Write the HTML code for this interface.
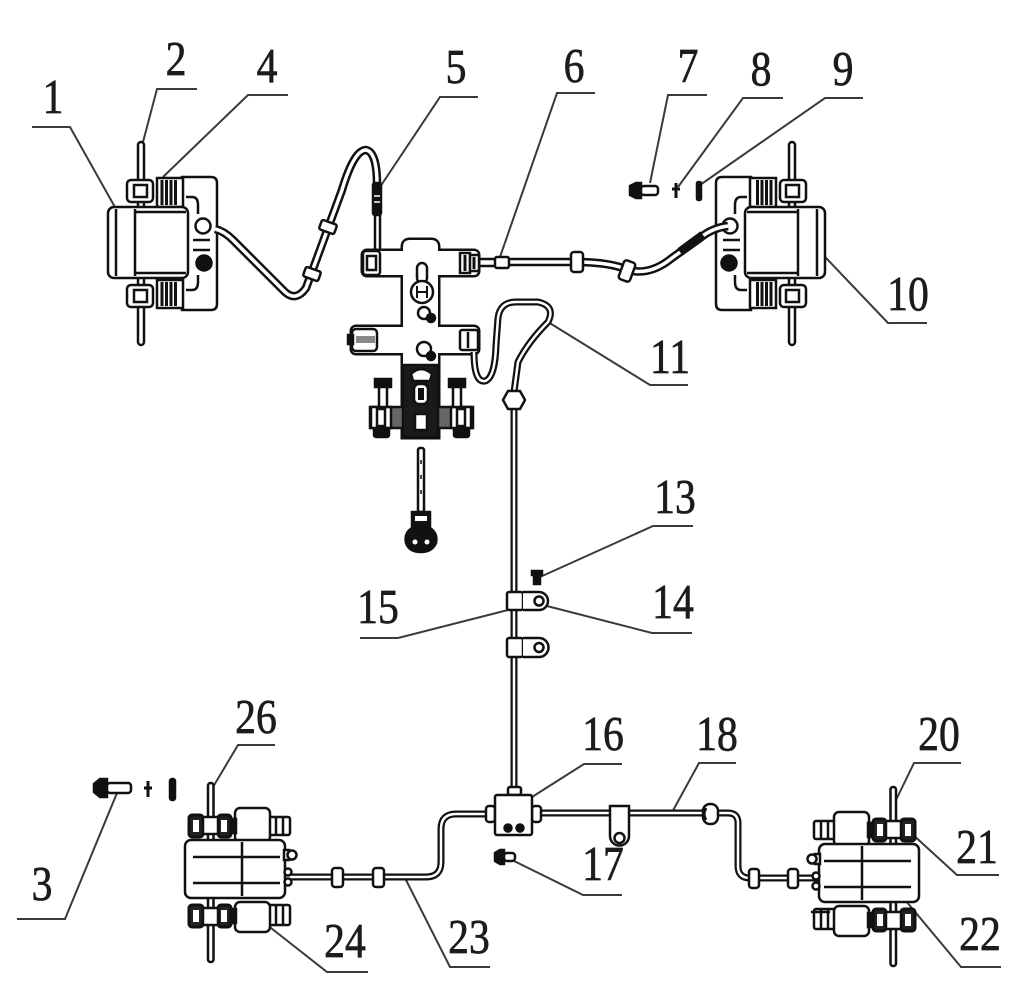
<!DOCTYPE html>
<html><head><meta charset="utf-8">
<style>
html,body{margin:0;padding:0;background:#fff}
svg{display:block}
.lb{font-family:"Liberation Serif",serif;font-size:49px;fill:#1c1c1c;stroke:#1c1c1c;stroke-width:0.7;text-anchor:middle}
.ld{fill:none;stroke:#3a3a3a;stroke-width:2}
.k{stroke:#111;stroke-width:2.5;fill:#fff}
.to{fill:none;stroke:#111;stroke-width:8.5;stroke-linejoin:round}
.ti{fill:none;stroke:#fff;stroke-width:3.5;stroke-linejoin:round}
.po{fill:none;stroke:#111;stroke-width:7;stroke-linejoin:round}
.pi{fill:none;stroke:#fff;stroke-width:2.5;stroke-linejoin:round}
</style></head><body>
<svg width="1024" height="986" viewBox="0 0 1024 986" xmlns="http://www.w3.org/2000/svg">
<rect width="1024" height="986" fill="#fff"/>
<defs>
<g id="fc" class="k">
  <rect x="138" y="142" width="6" height="203" rx="3"/>
  <path d="M182 177H211Q217 177 217 183V304Q217 310 211 310H182Z"/>
  <path d="M186 197H192Q198 197 198 205V214M186 290H192Q198 290 198 282V275M193 240H210M193 250H210" fill="none"/>
  <circle cx="203" cy="226" r="7.5"/>
  <circle cx="204" cy="263" r="7.5" fill="#111"/>
  <rect x="157" y="178" width="26" height="29"/>
  <path d="M162 180V205M166.5 180V205M171 180V205M175.5 180V205" stroke-width="3" fill="none"/>
  <rect x="157" y="280" width="26" height="28"/>
  <path d="M162 282V306M166.5 282V306M171 282V306M175.5 282V306" stroke-width="3" fill="none"/>
  <rect x="127" y="180" width="26" height="22" rx="4"/>
  <rect x="134" y="185" width="13" height="12"/>
  <rect x="127" y="285" width="26" height="22" rx="4"/>
  <rect x="134" y="290" width="13" height="12"/>
  <rect x="108" y="207" width="80" height="71" rx="6"/>
  <path d="M116 209V276M135 209V276M135 212H186M135 273H186" fill="none"/>
</g>
<g id="rc" class="k">
  <rect x="208" y="783" width="5.5" height="179" rx="2.5"/>
  <rect x="266" y="817" width="24" height="18" rx="2"/>
  <path d="M276 817V835M283 817V835" fill="none"/>
  <rect x="235" y="808" width="35" height="34" rx="5"/>
  <rect x="229" y="819" width="7" height="14" fill="#111"/>
  <rect x="189" y="815" width="14" height="22" rx="3" fill="#222" stroke-width="3"/>
  <rect x="218" y="815" width="13" height="22" rx="3" fill="#222" stroke-width="3"/>
  <rect x="203" y="817" width="15" height="17"/>
  <rect x="193" y="820" width="6" height="12" fill="#fff" stroke="none"/>
  <rect x="221" y="820" width="6" height="12" fill="#fff" stroke="none"/>
  <rect x="185" y="840" width="100" height="58" rx="6"/>
  <path d="M242 842V896M193 857H280M193 883H280" fill="none"/>
  <rect x="266" y="905" width="24" height="20" rx="2"/>
  <path d="M276 905V925M283 905V925" fill="none"/>
  <rect x="235" y="902" width="35" height="30" rx="5"/>
  <rect x="229" y="909" width="7" height="14" fill="#111"/>
  <rect x="189" y="905" width="14" height="22" rx="3" fill="#222" stroke-width="3"/>
  <rect x="218" y="905" width="13" height="22" rx="3" fill="#222" stroke-width="3"/>
  <rect x="203" y="908" width="15" height="17"/>
  <rect x="193" y="910" width="6" height="12" fill="#fff" stroke="none"/>
  <rect x="221" y="910" width="6" height="12" fill="#fff" stroke="none"/>
  <rect x="284" y="850" width="5" height="10"/>
  <circle cx="292" cy="855" r="4.5"/>
  <circle cx="288" cy="872" r="3.5"/>
  <circle cx="288" cy="882" r="3.5"/>
</g>
</defs>

<!-- leader lines -->
<g class="ld">
<polyline points="32,127 70,127 125,225"/>
<polyline points="197,89 157,89 143,142"/>
<polyline points="288,95 248,95 163,177"/>
<polyline points="478,97 440,97 378,190"/>
<polyline points="595,93 557,93 500,257"/>
<polyline points="707,95 668,95 650,183"/>
<polyline points="783,98 743,98 678,187"/>
<polyline points="863,98 825,98 700,185"/>
<polyline points="927,323 888,323 807,238"/>
<polyline points="688,385 650,385 548,322"/>
<polyline points="693,526 653,526 540,577"/>
<polyline points="692,633 652,633 543,605"/>
<polyline points="360,638 398,638 508,610"/>
<polyline points="622,764 584,764 532,797"/>
<polyline points="736,763 699,763 670,816"/>
<polyline points="961,763 914,763 896,800"/>
<polyline points="999,875 957,875 911,833"/>
<polyline points="1001,967 961,967 901,895"/>
<polyline points="622,895 583,895 512,860"/>
<polyline points="490,967 450,967 405,878"/>
<polyline points="368,972 327,972 257,917"/>
<polyline points="275,745 238,745 213,787"/>
<polyline points="17,919 65,919 117,793"/>
</g>

<!-- front calipers -->
<use href="#fc"/>
<use href="#fc" transform="translate(933,0) scale(-1,1)"/>

<!-- hose 5 -->
<path class="to" d="M215 229 Q224 231 233 240 L285 292 Q296 302 306 288 L342 190 Q354 150 366 150 Q377 152 377 185"/>
<path class="ti" d="M215 229 Q224 231 233 240 L285 292 Q296 302 306 288 L342 190 Q354 150 366 150 Q377 152 377 185"/>
<g class="k">
  <rect x="-5" y="-8" width="10" height="16" rx="2" transform="translate(328,227) rotate(-70)"/>
  <rect x="-5" y="-8" width="10" height="16" rx="2" transform="translate(312,274) rotate(-70)"/>
  <rect x="375" y="213" width="5" height="38"/>
  <rect x="373" y="183" width="8" height="32" rx="2" fill="#111"/>
  <path d="M374 196H380M374 202H380" stroke="#fff" stroke-width="1.5"/>
</g>

<!-- hose 6 -->
<path class="to" d="M505 262 L575 262 Q610 262 628 270 Q650 276 672 258 L700 238 Q712 228 728 226"/>
<path class="ti" d="M505 262 L575 262 Q610 262 628 270 Q650 276 672 258 L700 238 Q712 228 728 226"/>
<path d="M680 252 L703 235" stroke="#111" stroke-width="9" fill="none"/>
<g class="k">
  <rect x="478" y="259" width="30" height="7"/>
  <rect x="495" y="257" width="14" height="11" rx="2"/>
  <rect x="571" y="252" width="12" height="20" rx="3"/>
  <rect x="-6" y="-10" width="12" height="20" rx="3" transform="translate(627,271) rotate(20)"/>
</g>

<!-- valve -->
<g stroke="#111" stroke-width="5" fill="#111">
  <rect x="363" y="251" width="115" height="24" rx="4"/>
  <rect x="352" y="327" width="126" height="26" rx="4"/>
  <path d="M403 247Q403 240 410 240H431Q438 240 438 247V437H403Z"/>
</g>
<g fill="#fff" stroke="none">
  <rect x="363" y="251" width="115" height="24" rx="4"/>
  <rect x="352" y="327" width="126" height="26" rx="4"/>
  <path d="M403 247Q403 240 410 240H431Q438 240 438 247V437H403Z"/>
</g>
<g class="k">
  <rect x="363" y="251" width="17" height="24" rx="3"/>
  <rect x="367" y="256" width="9" height="14"/>
  <rect x="460" y="253" width="10" height="20"/>
  <rect x="470" y="255" width="9" height="16"/>
  <path d="M465 255V271M474 257V269" stroke-width="3" fill="none"/>
  <rect x="417" y="263" width="10" height="20" rx="5"/>
  <circle cx="422" cy="292" r="11"/>
  <path d="M417 286V298M427 286V298M417 292H427" fill="none" stroke-width="2"/>
  <circle cx="424" cy="313" r="6"/>
  <circle cx="431" cy="318" r="4" fill="#111"/>
  <rect x="352" y="329" width="25" height="22" rx="4"/>
  <rect x="356" y="336" width="19" height="7" fill="#888" stroke="none"/>
  <rect x="348" y="335" width="5" height="9" fill="#111"/>
  <rect x="460" y="330" width="18" height="20" rx="2"/>
  <path d="M468 332V348" fill="none"/>
  <circle cx="424" cy="349" r="7"/>
  <circle cx="431" cy="356" r="4" fill="#111"/>
  <rect x="370" y="407" width="103" height="21" fill="#666"/>
  <rect x="403" y="365" width="35" height="72" fill="#1a1a1a"/>
  <path d="M411 374 Q421 364 432 374 L430 381 H413Z" fill="#fff"/>
  <rect x="414" y="384" width="14" height="20" rx="5" fill="#fff"/>
  <rect x="418" y="388" width="6" height="12" fill="#111" stroke="none"/>
  <rect x="415" y="414" width="12" height="16" fill="#fff"/>
  <rect x="371" y="407" width="20" height="21" fill="#fff"/>
  <rect x="377" y="409" width="8" height="17"/>
  <rect x="451" y="407" width="20" height="21" fill="#fff"/>
  <rect x="457" y="409" width="8" height="17"/>
  <rect x="374" y="428" width="15" height="9" rx="2" fill="#111"/>
  <rect x="454" y="428" width="15" height="9" rx="2" fill="#111"/>
  <rect x="379" y="386" width="8" height="21"/>
  <rect x="375" y="379" width="16" height="8" fill="#111"/>
  <rect x="453" y="386" width="8" height="21"/>
  <rect x="449" y="379" width="16" height="8" fill="#111"/>
</g>
<!-- switch below valve -->
<g class="k">
  <rect x="418" y="448" width="6" height="64" rx="2"/>
  <path d="M421 460V464M421 475V479M421 490V494" stroke-width="1.5" fill="none"/>
  <path d="M412 512H430V528Q438 533 436 543Q432 552 421 552Q409 552 406 543Q404 533 412 528Z" fill="#111"/>
  <rect x="415" y="516" width="12" height="5" fill="#fff" stroke="none"/>
  <circle cx="415" cy="542" r="2.5" fill="#fff" stroke="none"/>
  <circle cx="427" cy="542" r="2.5" fill="#fff" stroke="none"/>
</g>

<!-- bolt 7 8 9 -->
<g class="k">
  <path d="M630 186 L636 183 H641 V198 H636 L630 195Z" fill="#111"/>
  <rect x="641" y="186" width="17" height="9" rx="3"/>
  <path d="M676 183V198M672 189H680" stroke-width="3" fill="none"/>
  <rect x="697" y="182" width="4" height="18" rx="1.5" fill="#111"/>
</g>

<!-- hose 11 -->
<path class="po" d="M474 352 Q474 383 485 381 Q495 378 496 345 L498 318 Q500 302 516 302 L538 302 Q556 306 548 322 Q528 342 518 362 L514 392"/>
<path class="pi" d="M474 352 Q474 383 485 381 Q495 378 496 345 L498 318 Q500 302 516 302 L538 302 Q556 306 548 322 Q528 342 518 362 L514 392"/>
<!-- vertical pipe -->
<path class="po" d="M514 405 V792"/>
<path class="pi" d="M514 405 V792"/>
<g class="k">
  <polygon points="503,400 508,391 520,391 525,400 520,409 508,409"/>
  <rect x="507" y="592" width="16" height="18" rx="2"/>
  <path d="M523 592 H539 A9 9 0 0 1 539 610 H523"/>
  <circle cx="539" cy="601" r="4.5"/>
  <rect x="507" y="638" width="16" height="19" rx="2"/>
  <path d="M523 638 H539 A9.5 9.5 0 0 1 539 657 H523"/>
  <circle cx="539" cy="647.5" r="4.5"/>
  <rect x="534" y="574" width="6" height="10" fill="#111"/>
  <rect x="532" y="571" width="10" height="4" fill="#111"/>
</g>

<!-- pipe 23 -->
<path class="po" d="M290 877 H426 Q441 877 441 862 V829 Q441 814 456 814 H490"/>
<path class="pi" d="M290 877 H426 Q441 877 441 862 V829 Q441 814 456 814 H490"/>
<!-- pipe 18 -->
<path class="po" d="M538 813 H706"/>
<path class="pi" d="M538 813 H706"/>
<path class="po" d="M712 813 H728 Q738 813 738 823 V866 Q738 878 750 878 H820"/>
<path class="pi" d="M712 813 H728 Q738 813 738 823 V866 Q738 878 750 878 H820"/>
<g class="k">
  <rect x="332" y="868" width="11" height="19" rx="3"/>
  <rect x="373" y="868" width="11" height="19" rx="3"/>
  <rect x="749" y="869" width="10" height="19" rx="3"/>
  <rect x="788" y="869" width="10" height="19" rx="3"/>
  <rect x="703" y="804" width="15" height="20" rx="7"/>
  <path d="M706 808 Q702 814 706 820" stroke-width="3" fill="none"/>
  <path d="M610 806 H629 V836 A9.5 9.5 0 0 1 610 836 Z"/>
  <circle cx="619.5" cy="838" r="5"/>
  <rect x="486" y="806" width="9" height="16" rx="3"/>
  <rect x="532" y="806" width="9" height="16" rx="3"/>
  <rect x="508" y="787" width="13" height="8" rx="2"/>
  <rect x="495" y="795" width="37" height="40" rx="2"/>
  <circle cx="508" cy="828" r="3.5" fill="#111"/>
  <circle cx="520" cy="828" r="3.5" fill="#111"/>
  <path d="M495 853 L500 850 H504 V864 H500 L495 861Z" fill="#111"/>
  <rect x="504" y="853" width="11" height="8" rx="3"/>
  <path d="M94 784 L100 779 H107 V797 H100 L94 792Z" fill="#111"/>
  <rect x="107" y="783" width="24" height="10" rx="3"/>
  <path d="M148 781V797M144 788H152" stroke-width="3" fill="none"/>
  <rect x="170" y="779" width="5" height="21" rx="2" fill="#111"/>
</g>

<!-- rear calipers -->
<use href="#rc"/>
<use href="#rc" transform="translate(1104,4) scale(-1,1)"/>
<path d="M811 912 H830" stroke="#111" stroke-width="2.5"/>

<!-- labels -->
<g class="lb">
<text transform="translate(53,113) scale(0.85,1)">1</text>
<text transform="translate(176,75) scale(0.85,1)">2</text>
<text transform="translate(267,82) scale(0.85,1)">4</text>
<text transform="translate(456,83) scale(0.85,1)">5</text>
<text transform="translate(574,82) scale(0.85,1)">6</text>
<text transform="translate(688,82) scale(0.85,1)">7</text>
<text transform="translate(761,85) scale(0.85,1)">8</text>
<text transform="translate(843,85) scale(0.85,1)">9</text>
<text transform="translate(908,310) scale(0.85,1)">10</text>
<text transform="translate(670,373) scale(0.85,1)">11</text>
<text transform="translate(675,513) scale(0.85,1)">13</text>
<text transform="translate(673,618) scale(0.85,1)">14</text>
<text transform="translate(378,623) scale(0.85,1)">15</text>
<text transform="translate(603,750) scale(0.85,1)">16</text>
<text transform="translate(717,750) scale(0.85,1)">18</text>
<text transform="translate(939,750) scale(0.85,1)">20</text>
<text transform="translate(977,863) scale(0.85,1)">21</text>
<text transform="translate(980,950) scale(0.85,1)">22</text>
<text transform="translate(603,880) scale(0.85,1)">17</text>
<text transform="translate(469,953) scale(0.85,1)">23</text>
<text transform="translate(345,957) scale(0.85,1)">24</text>
<text transform="translate(256,733) scale(0.85,1)">26</text>
<text transform="translate(42,900) scale(0.85,1)">3</text>
</g>
</svg>
</body></html>
